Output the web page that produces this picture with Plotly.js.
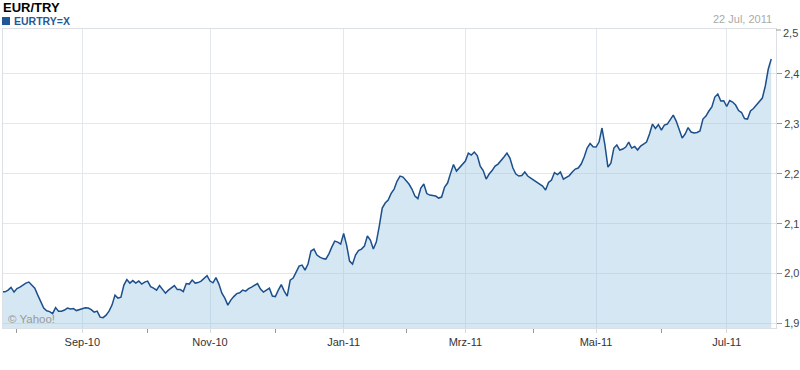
<!DOCTYPE html>
<html>
<head>
<meta charset="utf-8">
<script src="https://cdn.plot.ly/plotly-3.0.1.min.js"></script>
<style>
  html, body { margin: 0; padding: 0; background: #fff; }
  #chart { width: 800px; height: 370px; }
</style>
</head>
<body>
<div id="chart"></div>
<script>
// ---- Data ----
const chartTitle = 'EUR/TRY';
const seriesName = 'EURTRY=X';
const dateLabel = '22 Jul, 2011';
const firstDay = '2010-07-26';   // first trading day shown
// Daily EUR/TRY close, one per trading day (Mon-Fri), 26 Jul 2010 .. 22 Jul 2011
const rates = [
  1.9635,1.9635,1.9669,1.9723,1.9629,1.9699,1.9729,1.9770,1.9810,1.9830,
  1.9770,1.9709,1.9569,1.9429,1.9309,1.9255,1.9238,1.9198,1.9319,1.9248,
  1.9248,1.9269,1.9309,1.9289,1.9299,1.9259,1.9279,1.9303,1.9315,1.9309,
  1.9279,1.9228,1.9248,1.9128,1.9118,1.9168,1.9248,1.9369,1.9569,1.9509,
  1.9529,1.9770,1.9880,1.9810,1.9860,1.9810,1.9850,1.9790,1.9830,1.9850,
  1.9739,1.9709,1.9669,1.9760,1.9689,1.9609,1.9669,1.9709,1.9760,1.9679,
  1.9679,1.9639,1.9800,1.9790,1.9870,1.9810,1.9820,1.9850,1.9910,1.9960,
  1.9850,1.9816,1.9920,1.9790,1.9609,1.9509,1.9369,1.9469,1.9539,1.9599,
  1.9615,1.9669,1.9649,1.9699,1.9729,1.9770,1.9800,1.9689,1.9629,1.9669,
  1.9709,1.9549,1.9539,1.9669,1.9780,1.9649,1.9549,1.9870,1.9910,2.0030,
  2.0150,2.0170,2.0070,2.0190,2.0451,2.0491,2.0371,2.0331,2.0301,2.0291,
  2.0391,2.0531,2.0651,2.0631,2.0591,2.0802,2.0571,2.0251,2.0190,2.0371,
  2.0461,2.0491,2.0551,2.0752,2.0671,2.0491,2.0631,2.0952,2.1313,2.1413,
  2.1473,2.1607,2.1693,2.1854,2.1954,2.1934,2.1874,2.1794,2.1693,2.1553,
  2.1503,2.1713,2.1794,2.1603,2.1573,2.1563,2.1553,2.1513,2.1533,2.1733,
  2.1814,2.2008,2.2184,2.2054,2.2114,2.2174,2.2255,2.2415,2.2375,2.2435,
  2.2365,2.2154,2.2064,2.1894,2.1994,2.2064,2.2154,2.2194,2.2255,2.2335,
  2.2415,2.2315,2.2114,2.1994,2.1954,2.1964,2.2034,2.1954,2.1914,2.1874,
  2.1834,2.1794,2.1754,2.1673,2.1824,2.1874,2.2024,2.1984,2.2034,2.1894,
  2.1924,2.1964,2.2034,2.2094,2.2114,2.2194,2.2335,2.2515,2.2605,2.2541,
  2.2535,2.2635,2.2916,2.2575,2.2134,2.2214,2.2515,2.2575,2.2475,2.2495,
  2.2535,2.2635,2.2515,2.2545,2.2475,2.2555,2.2595,2.2635,2.2796,2.2996,
  2.2906,2.2986,2.2876,2.2976,2.2996,2.3096,2.3176,2.3056,2.2876,2.2715,
  2.2796,2.2926,2.2836,2.2816,2.2826,2.2856,2.3096,2.3156,2.3257,2.3337,
  2.3537,2.3597,2.3457,2.3463,2.3347,2.3467,2.3437,2.3377,2.3267,2.3227,
  2.3106,2.3096,2.3257,2.3307,2.3377,2.3447,2.3517,2.3758,2.4098,2.4299
];
const majorMonths = ['2010-09','2010-11','2011-01','2011-03','2011-05','2011-07'];
const majorLabels = ['Sep-10','Nov-10','Jan-11','Mrz-11','Mai-11','Jul-11'];
const minorMonths = ['2010-08','2010-10','2010-12','2011-02','2011-04','2011-06'];
const yTickVals = [1.9, 2.0, 2.1, 2.2, 2.3, 2.4];
const yTickText = ['1,9', '2,0', '2,1', '2,2', '2,3', '2,4'];
const topTickText = '2,5';

// ---- Trading-day axis ----
function tradingDays(startIso, n) {
  const out = [];
  const d = new Date(startIso + 'T00:00:00Z');
  while (out.length < n) {
    const wd = d.getUTCDay();
    if (wd !== 0 && wd !== 6) out.push(d.toISOString().slice(0, 10));
    d.setUTCDate(d.getUTCDate() + 1);
  }
  return out;
}
const days = tradingDays(firstDay, rates.length);
const idx = days.map((_, i) => i);
function firstIndexOfMonth(m) { return days.findIndex(s => s.slice(0, 7) === m); }
const majorVals = majorMonths.map(firstIndexOfMonth);
const minorVals = minorMonths.map(firstIndexOfMonth);

const FONT = 'Liberation Sans, Arial, Helvetica, sans-serif';

// pixel helpers for decorations (plot area: x 3..776, y 29..328)
const PL = 3, PR = 776, PT = 29, PB = 328;
const px = x => (x - PL) / (PR - PL);
const py = y => (PB - y) / (PB - PT);

const trace = {
  x: idx,
  y: rates,
  type: 'scatter',
  mode: 'lines',
  line: { color: '#1c4f8b', width: 1.5, shape: 'linear' },
  fill: 'tozeroy',
  fillcolor: 'rgba(150,194,222,0.40)',
  hoverinfo: 'skip'
};

const layout = {
  width: 800,
  height: 370,
  margin: { l: PL, r: 800 - PR, t: PT, b: 370 - PB, pad: 0 },
  paper_bgcolor: '#ffffff',
  plot_bgcolor: '#ffffff',
  showlegend: false,
  font: { family: FONT, size: 11, color: '#333' },
  xaxis: {
    type: 'linear',
    range: [0.29, 260.6],
    tickmode: 'array',
    tickvals: majorVals,
    ticktext: majorLabels,
    showgrid: true,
    gridcolor: '#e3e8ef',
    gridwidth: 1,
    ticks: 'outside',
    ticklen: 4,
    tickcolor: '#d5dbe3',
    tickfont: { family: FONT, size: 11, color: '#333' },
    showline: true,
    mirror: true,
    linecolor: '#dcdfe4',
    linewidth: 1,
    zeroline: false,
    fixedrange: true,
    minor: {
      tickmode: 'array',
      tickvals: minorVals,
      ticks: 'outside',
      ticklen: 4,
      tickcolor: '#999',
      showgrid: false
    }
  },
  yaxis: {
    side: 'right',
    range: [1.891, 2.49],
    tickmode: 'array',
    tickvals: yTickVals,
    ticktext: yTickText,
    showgrid: true,
    gridcolor: '#e3e8ef',
    gridwidth: 1,
    ticks: 'outside',
    ticklen: 5,
    tickcolor: '#999',
    tickfont: { family: FONT, size: 11, color: '#444' },
    showline: true,
    mirror: true,
    linecolor: '#dcdfe4',
    linewidth: 1,
    zeroline: false,
    fixedrange: true
  },
  shapes: [
    { type: 'rect', xref: 'paper', yref: 'paper',
      x0: px(2), x1: px(10), y0: py(25), y1: py(17),
      fillcolor: '#1f5797', line: { width: 0 } },
    { type: 'line', xref: 'paper', yref: 'paper',
      x0: px(776), x1: px(781), y0: py(30), y1: py(30),
      line: { color: '#999', width: 1 } }
  ],
  annotations: [
    { text: '<b>' + chartTitle + '</b>', xref: 'paper', yref: 'paper',
      x: px(1), y: py(7), xanchor: 'left', yanchor: 'middle', showarrow: false,
      font: { family: FONT, size: 13, color: '#000' } },
    { text: '<b>' + seriesName + '</b>', xref: 'paper', yref: 'paper',
      x: px(11.5), y: py(21), xanchor: 'left', yanchor: 'middle', showarrow: false,
      font: { family: FONT, size: 10.5, color: '#1f5a96' } },
    { text: dateLabel, xref: 'paper', yref: 'paper',
      x: px(774), y: py(19), xanchor: 'right', yanchor: 'middle', showarrow: false,
      font: { family: FONT, size: 11, color: '#aaaaaa' } },
    { text: '© Yahoo!', xref: 'paper', yref: 'paper',
      x: px(6), y: py(318.5), xanchor: 'left', yanchor: 'middle', showarrow: false,
      font: { family: FONT, size: 11.5, color: '#999' } },
    { text: topTickText, xref: 'paper', yref: 'paper',
      x: px(781), y: py(32.5), xanchor: 'left', yanchor: 'middle', showarrow: false,
      font: { family: FONT, size: 11, color: '#444' } }
  ]
};

Plotly.newPlot('chart', [trace], layout, { staticPlot: true, displayModeBar: false });
</script>
</body>
</html>
